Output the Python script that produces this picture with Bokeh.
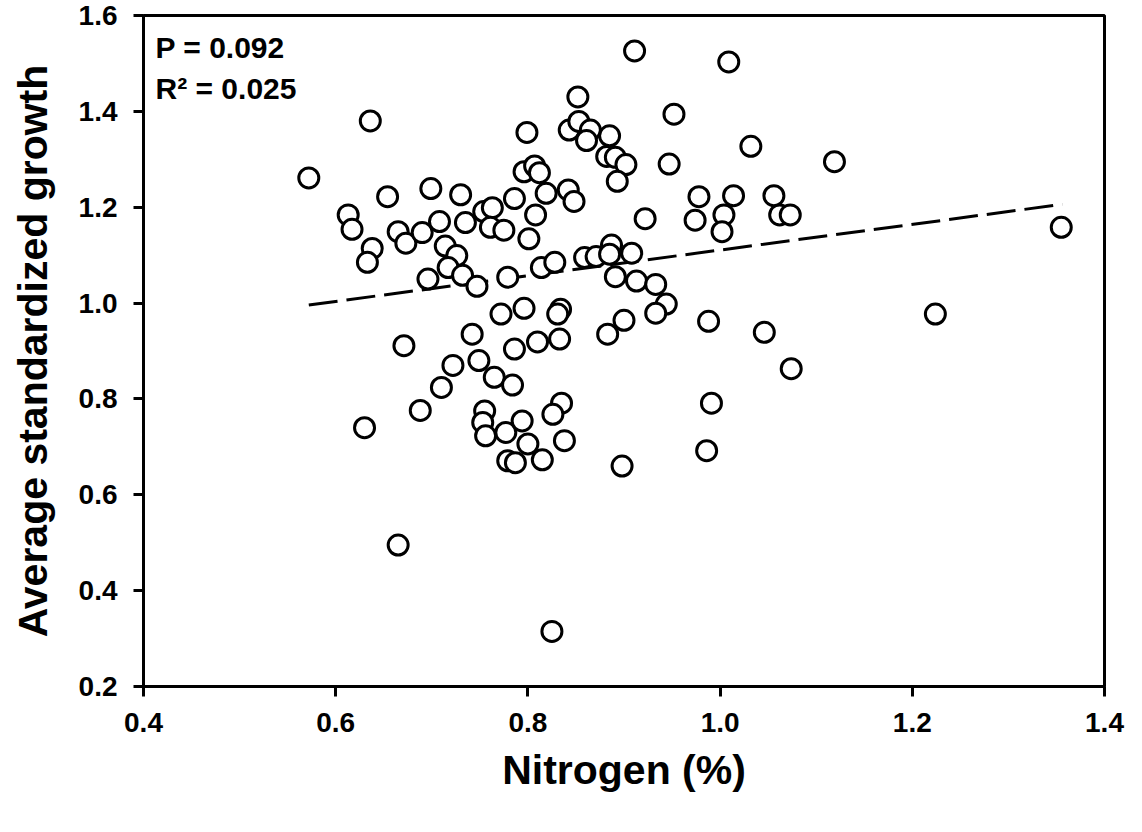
from bokeh.plotting import figure
from bokeh.models import FixedTicker, NumeralTickFormatter, Label, ColumnDataSource
from bokeh.embed import file_html
from bokeh.resources import INLINE

# Nitrogen (%) and average standardized growth
nitrogen = [0.572, 0.636, 0.654, 0.613, 0.617, 0.638, 0.633, 0.665, 0.673, 0.690,
            0.699, 0.730, 0.708, 0.735, 0.714, 0.726, 0.717, 0.732, 0.696, 0.747,
            0.754, 0.763, 0.761, 0.775, 0.786, 0.799, 0.796, 0.807, 0.812, 0.808,
            0.801, 0.779, 0.819, 0.814, 0.828, 0.842, 0.848, 0.843, 0.852, 0.853,
            0.865, 0.861, 0.885, 0.882, 0.891, 0.902, 0.893, 0.911, 1.009, 0.952,
            0.947, 1.032, 1.119, 0.922, 0.978, 0.974, 1.014, 1.004, 1.002, 1.056,
            1.062, 1.073, 1.355, 0.859, 0.871, 0.887, 0.885, 0.908, 0.891, 0.913,
            0.933, 0.944, 0.933, 0.772, 0.796, 0.834, 0.831, 0.900, 0.883, 0.671,
            0.742, 0.786, 0.810, 0.833, 0.722, 0.749, 0.710, 0.765, 0.784, 0.688,
            0.630, 0.755, 0.753, 0.756, 0.777, 0.794, 0.800, 0.779, 0.787, 0.815,
            0.835, 0.826, 0.838, 0.898, 0.988, 1.046, 1.224, 1.074, 0.991, 0.986,
            0.665, 0.825]
growth = [1.261, 1.380, 1.222, 1.184, 1.154, 1.114, 1.085, 1.149, 1.125, 1.147,
          1.239, 1.226, 1.170, 1.168, 1.119, 1.099, 1.074, 1.058, 1.050, 1.035,
          1.191, 1.199, 1.158, 1.152, 1.218, 1.356, 1.274, 1.286, 1.272, 1.184,
          1.134, 1.054, 1.229, 1.074, 1.085, 1.236, 1.212, 1.361, 1.430, 1.379,
          1.361, 1.339, 1.349, 1.306, 1.304, 1.289, 1.254, 1.526, 1.503, 1.394,
          1.290, 1.327, 1.295, 1.176, 1.222, 1.173, 1.224, 1.184, 1.149, 1.224,
          1.184, 1.184, 1.158, 1.095, 1.097, 1.121, 1.102, 1.104, 1.055, 1.046,
          1.039, 0.998, 0.979, 0.977, 0.989, 0.987, 0.977, 0.964, 0.935, 0.911,
          0.935, 0.904, 0.919, 0.925, 0.870, 0.880, 0.824, 0.845, 0.829, 0.776,
          0.740, 0.775, 0.751, 0.723, 0.730, 0.754, 0.706, 0.671, 0.667, 0.673,
          0.791, 0.768, 0.713, 0.660, 0.962, 0.939, 0.977, 0.863, 0.791, 0.692,
          0.495, 0.315]

# regression line (as drawn in the reference)
fit_x = [0.572, 1.356]
fit_y = [0.996, 1.206]

x_ticks = [0.4, 0.6, 0.8, 1.0, 1.2, 1.4]
y_ticks = [0.2, 0.4, 0.6, 0.8, 1.0, 1.2, 1.4, 1.6]

stat_p = "P = 0.092"
stat_r2 = "R\u00b2 = 0.025"

FONT = "Liberation Sans"

p = figure(width=1126, height=816, output_backend="svg", toolbar_location=None,
           x_range=(0.4, 1.4), y_range=(0.2, 1.6),
           min_border_left=143, min_border_right=22, min_border_top=15,
           min_border_bottom=130)

p.xgrid.visible = False
p.ygrid.visible = False
p.background_fill_color = "white"
p.border_fill_color = "white"
p.outline_line_color = "black"
p.outline_line_width = 3

for ax, ticks in ((p.xaxis[0], x_ticks), (p.yaxis[0], y_ticks)):
    ax.ticker = FixedTicker(ticks=ticks, minor_ticks=[])
    ax.formatter = NumeralTickFormatter(format="0.0")
    ax.axis_line_width = 3
    ax.axis_line_color = "black"
    ax.major_tick_line_width = 3
    ax.major_tick_line_color = "black"
    ax.major_tick_out = 10
    ax.major_tick_in = 0
    ax.minor_tick_line_color = None
    ax.major_label_text_font = FONT
    ax.major_label_text_font_style = "bold"
    ax.major_label_text_font_size = "28px"
    ax.major_label_text_color = "black"
    ax.axis_label_text_font = FONT
    ax.axis_label_text_font_style = "bold"
    ax.axis_label_text_font_size = "41px"
    ax.axis_label_text_color = "black"

p.xaxis.axis_label = "Nitrogen (%)"
p.yaxis.axis_label = "Average standardized growth"
p.xaxis.major_label_standoff = 16
p.yaxis.major_label_standoff = 16
p.xaxis.axis_label_standoff = 12
p.yaxis.axis_label_standoff = 20

p.line(fit_x, fit_y, line_color="black", line_width=3, line_dash="29 9")

src = ColumnDataSource(dict(x=nitrogen, y=growth))
p.scatter("x", "y", source=src, marker="circle", size=20, fill_color="white",
          line_color="black", line_width=3)

p.add_layout(Label(x=0.4125, y=1.533, text=stat_p, text_font=FONT,
                   text_font_style="bold", text_font_size="30px",
                   text_baseline="alphabetic", text_color="black"))
p.add_layout(Label(x=0.4125, y=1.448, text=stat_r2, text_font=FONT,
                   text_font_style="bold", text_font_size="30px",
                   text_baseline="alphabetic", text_color="black"))

open("out.html", "w").write(file_html(p, INLINE))
